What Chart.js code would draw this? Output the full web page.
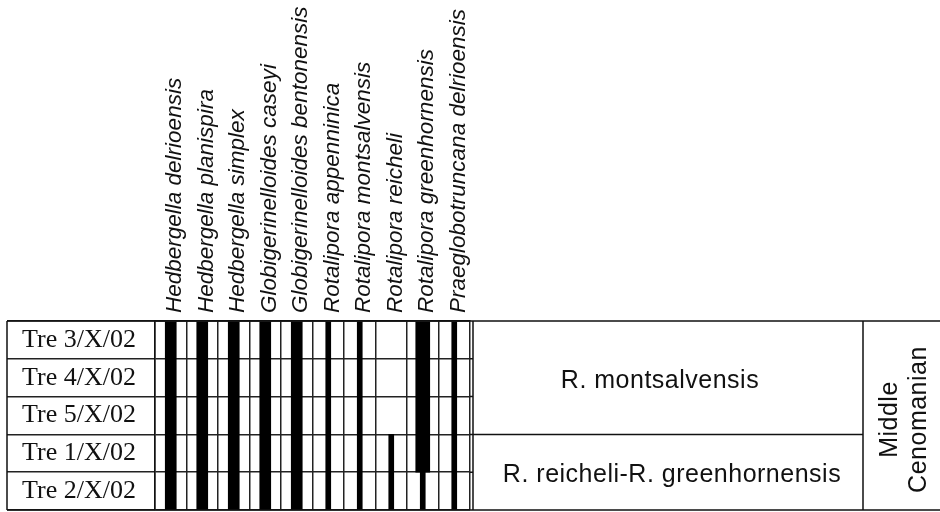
<!DOCTYPE html>
<html>
<head>
<meta charset="utf-8">
<script src="https://cdn.jsdelivr.net/npm/chart.js@4/dist/chart.umd.min.js"></script>
<style>
  html, body { margin: 0; padding: 0; background: #fff; }
</style>
</head>
<body>
<canvas id="rangeChart" width="940" height="512"></canvas>
<script>
const species = [
  "Hedbergella delrioensis",
  "Hedbergella planispira",
  "Hedbergella simplex",
  "Globigerinelloides caseyi",
  "Globigerinelloides bentonensis",
  "Rotalipora appenninica",
  "Rotalipora montsalvensis",
  "Rotalipora reicheli",
  "Rotalipora greenhornensis",
  "Praeglobotruncana delrioensis"
];
// samples top to bottom, a range [a, b] is in sample rows (0 = top of first row)
const samples = ["Tre 3/X/02", "Tre 4/X/02", "Tre 5/X/02", "Tre 1/X/02", "Tre 2/X/02"];
const wideRanges = [[0, 5], [0, 5], [0, 5], [0, 5], [0, 5], null, null, null, null, null];
const widestRanges = [null, null, null, null, null, null, null, null, [0, 4], null];
const narrowRanges = [null, null, null, null, null, [0, 5], [0, 5], [3, 5], [4, 5], [0, 5]];
const zones = ["R. montsalvensis", "R. reicheli-R. greenhornensis"];
const zoneBounds = [[0, 3], [3, 5]];
const stage = ["Middle", "Cenomanian"];

const INK = "#111";
const SANS = "'Liberation Sans', Arial, sans-serif";
const SERIF = "'Liberation Serif', 'Times New Roman', serif";

// boxes right of the range columns: zones and stage
const frame = {
  id: "frame",
  afterDraw(chart) {
    const { ctx, chartArea: a, scales: { y } } = chart;
    const left = 7, zoneLeft = 473, stageLeft = 863, right = chart.width;
    ctx.save();
    ctx.strokeStyle = INK;
    ctx.lineWidth = 1.5;
    ctx.beginPath();
    ctx.moveTo(left, a.top); ctx.lineTo(right, a.top);
    ctx.moveTo(left, a.bottom); ctx.lineTo(right, a.bottom);
    ctx.moveTo(left, a.top); ctx.lineTo(left, a.bottom);
    ctx.moveTo(zoneLeft, a.top); ctx.lineTo(zoneLeft, a.bottom);
    ctx.moveTo(stageLeft, a.top); ctx.lineTo(stageLeft, a.bottom);
    for (let i = 1; i < samples.length; i++) {
      const py = y.getPixelForValue(i);
      ctx.moveTo(a.right, py); ctx.lineTo(zoneLeft, py);
    }
    zoneBounds.slice(1).forEach(b => {
      const py = y.getPixelForValue(b[0]);
      ctx.moveTo(zoneLeft, py); ctx.lineTo(stageLeft, py);
    });
    ctx.stroke();

    ctx.fillStyle = INK;
    ctx.font = "25px " + SANS;
    ctx.letterSpacing = "0.5px";
    ctx.textAlign = "center";
    ctx.textBaseline = "middle";
    zones.forEach((z, i) => {
      const cy = (y.getPixelForValue(zoneBounds[i][0]) + y.getPixelForValue(zoneBounds[i][1])) / 2;
      ctx.fillText(z, (zoneLeft + stageLeft) / 2 - (i === 0 ? 8 : -4), cy + 3);
    });

    ctx.translate((stageLeft + right) / 2 + 3, (a.top + a.bottom) / 2 + 4);
    ctx.rotate(-Math.PI / 2);
    stage.forEach((s, i) => ctx.fillText(s, 0, (i - (stage.length - 1) / 2) * 29));
    ctx.restore();
  }
};

new Chart(document.getElementById("rangeChart"), {
  type: "bar",
  data: {
    labels: species,
    datasets: [
      { label: "wide", data: wideRanges, barThickness: 11, backgroundColor: "#000" },
      { label: "widest", data: widestRanges, barThickness: 14, backgroundColor: "#000" },
      { label: "narrow", data: narrowRanges, barThickness: 5, backgroundColor: "#000" }
    ]
  },
  options: {
    responsive: false,
    animation: false,
    layout: { padding: { left: 7, right: 470, top: 0, bottom: 2 } },
    datasets: { bar: { grouped: false, borderWidth: 0 } },
    plugins: { legend: { display: false }, tooltip: { enabled: false } },
    scales: {
      x: {
        position: "top",
        offset: true,
        grid: { offset: true, color: "#222", lineWidth: 1.5, drawTicks: false },
        border: { color: INK, width: 1.5 },
        ticks: {
          autoSkip: false, minRotation: 90, maxRotation: 90, padding: 8, labelOffset: 31,
          color: INK,
          font: { family: SANS, style: "italic", size: 22.5 }
        },
        afterFit: s => { s.height = 321; }
      },
      y: {
        min: 0,
        max: 5,
        reverse: true,
        afterBuildTicks: s => {
          const t = [];
          for (let v = 0; v <= samples.length; v += 0.5) t.push({ value: v });
          s.ticks = t;
        },
        grid: {
          color: c => (c.tick && Number.isInteger(c.tick.value)) ? "#222" : "rgba(0,0,0,0)",
          lineWidth: 1.5,
          tickLength: 148
        },
        border: { color: INK, width: 1.5 },
        ticks: {
          autoSkip: false,
          mirror: true,
          padding: -133,
          color: INK,
          font: { family: SERIF, size: 26 },
          callback: v => Number.isInteger(v) ? "" : samples[Math.floor(v)]
        },
        afterFit: s => { s.width = 148; }
      }
    }
  },
  plugins: [frame]
});
</script>
</body>
</html>
